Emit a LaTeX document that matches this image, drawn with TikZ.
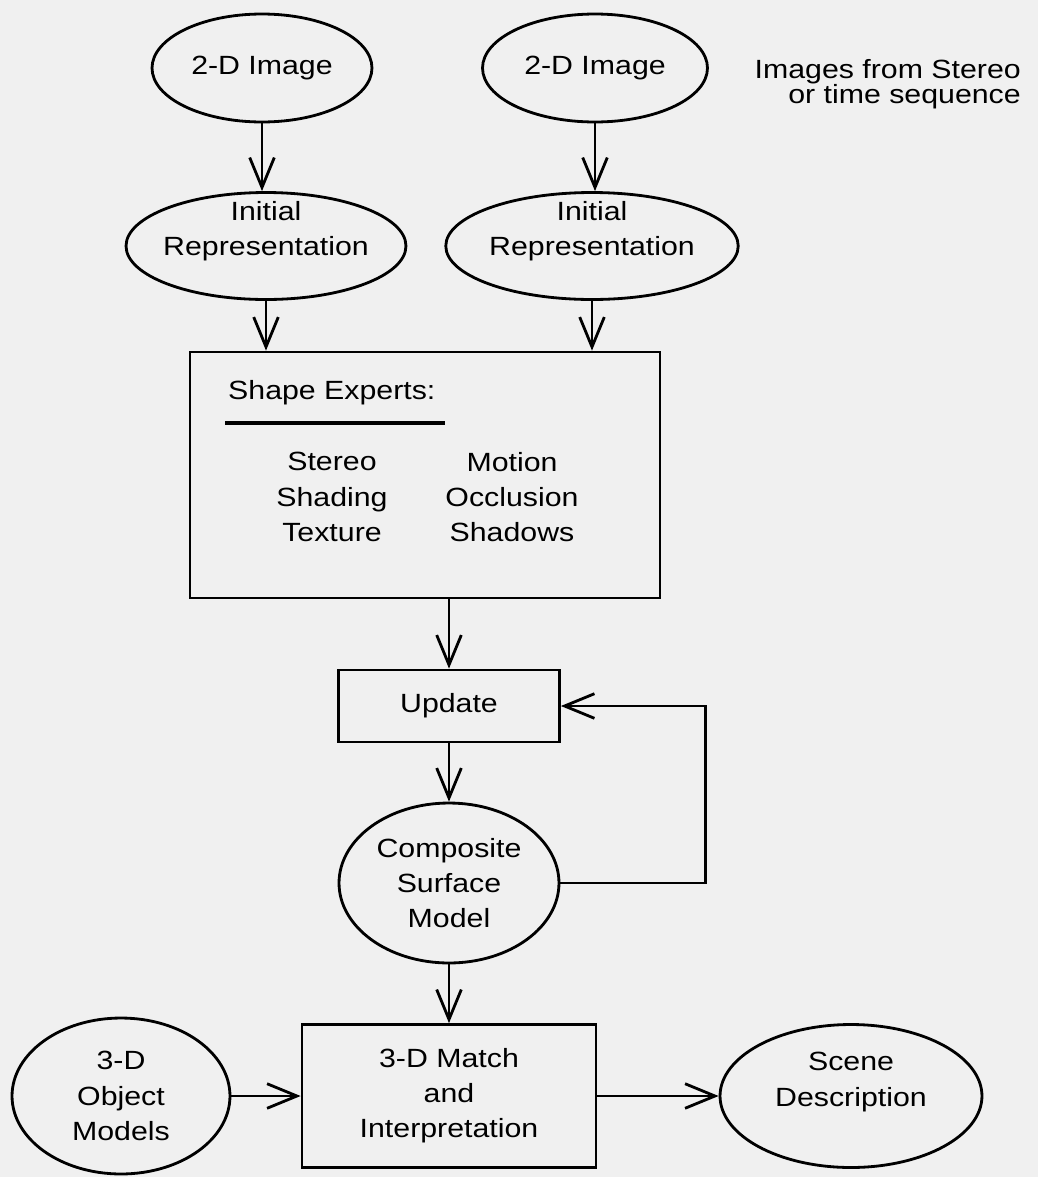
\documentclass[tikz,border=0pt]{standalone}
\usepackage{fontspec}
\setmainfont[FakeStretch=1.15]{Liberation Sans}
\usetikzlibrary{shapes.geometric,arrows.meta}
\definecolor{paper}{RGB}{240,240,240}
\begin{document}
\begin{tikzpicture}[x=0.02cm,y=-0.02cm,
  blob/.style={draw,ellipse,line width=1.6pt,inner sep=0pt,align=center},
  boxy/.style={draw,rectangle,line width=1.6pt,inner sep=0pt,align=center},
  arr/.style={line width=1.6pt,-{Straight Barb[length=17pt,width=14pt]}},
  font=\fontsize{15}{20}\selectfont]
\fill[paper] (0,0) rectangle (1038,1177);
\useasboundingbox (0,0) rectangle (1038,1177);
%IMAGES
\node[blob,minimum width=4.4cm,minimum height=2.16cm] (imgA) at (262,68) {2-D Image};
\node[blob,minimum width=4.5cm,minimum height=2.16cm] (imgB) at (595,68) {2-D Image};
\node[anchor=east,align=right,font=\fontsize{15}{14}\selectfont] (note) at (1027,84) {Images from Stereo\\or time sequence};
%INITIAL
\node[blob,minimum width=5.6cm,minimum height=2.14cm] (initA) at (266,246) {};
\node[align=center] (initAtxt) at (266,231) {Initial\\Representation};
\node[blob,minimum width=5.85cm,minimum height=2.14cm] (initB) at (592,246) {};
\node[align=center] (initBtxt) at (592,231) {Initial\\Representation};
\draw[arr] (imgA.south) -- (imgA.south |- initA.north);
\draw[arr] (imgB.south) -- (imgB.south |- initB.north);
%EXPERTS
\node[boxy,minimum width=9.4cm,minimum height=4.92cm] (experts) at (425,475) {};
\node[anchor=west] (hdr) at (222,393) {Shape Experts:};
\draw[line width=2pt] (225,423) -- (445,423);
\node[align=center] (colA) at (332,497) {Stereo\\Shading\\Texture};
\node[align=center] (colB) at (512,497) {Motion\\Occlusion\\Shadows};
\draw[arr] (initA.south) -- (initA.south |- experts.north);
\draw[arr] (initB.south) -- (initB.south |- experts.north);
%LOOP
\node[boxy,minimum width=4.42cm,minimum height=1.44cm] (upd) at (449,706) {Update};
\node[blob,minimum width=4.4cm,minimum height=3.2cm] (comp) at (449,883) {Composite\\Surface\\Model};
\draw[arr] (upd.north |- experts.south) -- (upd.north);
\draw[arr] (upd) -- (comp);
\draw[arr] (comp.east) -- ++(145,0) |- (upd.east);
%MATCH
\node[boxy,minimum width=5.88cm,minimum height=2.86cm] (match) at (449,1096) {3-D Match\\and\\Interpretation};
\node[blob,minimum width=4.36cm,minimum height=3.12cm] (objs) at (121,1096) {3-D\\Object\\Models};
\node[blob,minimum width=5.24cm,minimum height=2.86cm] (scene) at (851,1096) {};
\node[align=center] (scenetxt) at (851,1082) {Scene\\Description};
\draw[arr] (comp) -- (match);
\draw[arr] (objs) -- (match);
\draw[arr] (match) -- (scene);
\end{tikzpicture}
\end{document}
